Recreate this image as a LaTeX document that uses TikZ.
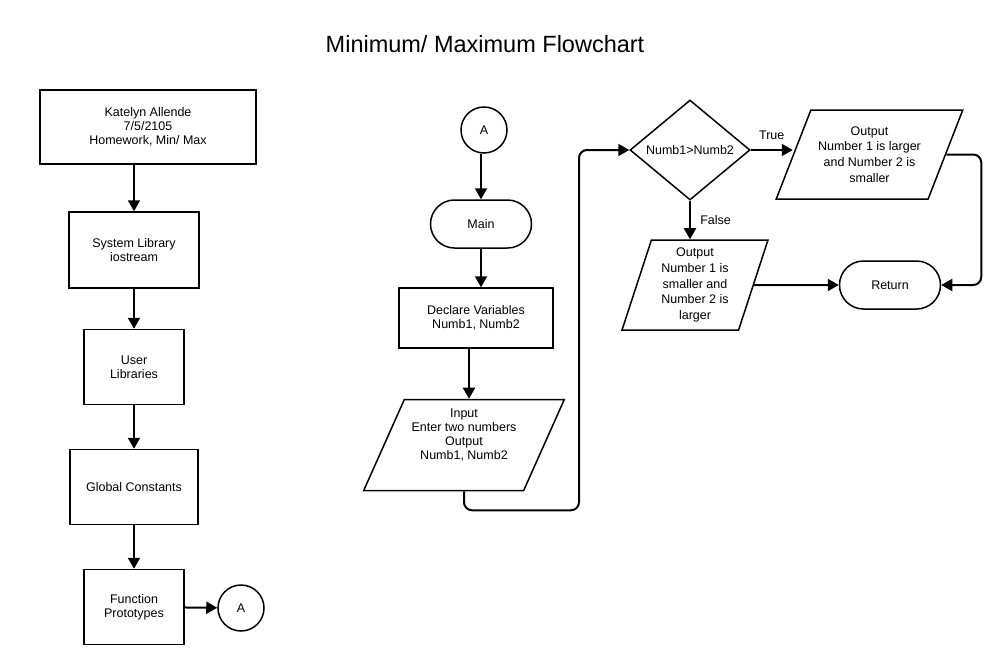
\documentclass[tikz,border=0pt]{standalone}
\usepackage{fontspec}
\setmainfont{Liberation Sans}
\usetikzlibrary{shapes.geometric, arrows.meta, calc, positioning}

\begin{document}
\begin{tikzpicture}[x=1pt, y=-1pt,
  every node/.style={font=\fontsize{12.5}{14}\selectfont, align=center},
  proc/.style={draw, line width=1.5pt, inner sep=0pt},
  term/.style={draw, line width=1.5pt, rounded corners=24pt, minimum width=101pt, minimum height=48pt},
  io/.style={draw, line width=1.5pt, trapezium, trapezium stretches=true, inner sep=1pt},
  decide/.style={draw, line width=1.5pt, diamond, inner sep=0pt, minimum width=120pt, minimum height=100pt},
  conn/.style={draw, line width=1.5pt, circle, inner sep=0pt, minimum size=46pt},
  flow/.style={line width=2pt, -{Triangle[length=11pt,width=12pt]}}]
\useasboundingbox (0,0) rectangle (1004,665);

\node[font=\fontsize{23.5}{28}\selectfont] (title) at (485,44) {Minimum/ Maximum Flowchart};

% left column
\node[proc, minimum width=216pt, minimum height=74pt] (head) at (148,127) {Katelyn Allende\\7/5/2105\\Homework, Min/ Max};
\node[proc, minimum width=130pt, minimum height=76pt] (syslib) at (134,250) {System Library\\iostream};
\node[proc, minimum width=100pt, minimum height=75pt] (userlib) at (134,367) {User\\Libraries};
\node[proc, minimum width=128pt, minimum height=75pt] (consts) at (134,487) {Global Constants};
\node[proc, minimum width=100pt, minimum height=75pt] (protos) at (134,607) {Function\\Prototypes};
\node[conn] (conA) at (241,608) {A};

\draw[flow] (head.south -| syslib.north) -- (syslib.north);
\draw[flow] (syslib) -- (userlib);
\draw[flow] (userlib) -- (consts);
\draw[flow] (consts) -- (protos);
\draw[flow] (protos) -- (conA);

% main part
\node[conn] (conB) at (484,130) {A};
\node[term] (main) at (481,224) {Main};
\node[proc, minimum width=154pt, minimum height=60pt] (decl) at (476,318) {Declare Variables\\Numb1, Numb2};
\node[io, minimum width=201pt, minimum height=91pt, trapezium left angle=64, trapezium right angle=116, text depth=22pt] (input) at (464,445) {Input\\Enter two numbers\\Output\\Numb1, Numb2};
\node[decide] (cmp) at (690,150) {Numb1>Numb2};
\node[io, minimum width=187pt, minimum height=89pt, trapezium left angle=62, trapezium right angle=118, font=\fontsize{12.5}{15.8}\selectfont] (big) at (869.5,154.5) {Output\\Number 1 is larger\\and Number 2 is\\smaller};
\node[io, minimum width=146pt, minimum height=90pt, trapezium left angle=73, trapezium right angle=107, font=\fontsize{12.5}{15.8}\selectfont] (small) at (695,285) {Output\\Number 1 is\\smaller and\\Number 2 is\\larger};
\node[term] (ret) at (890,285) {Return};
\coordinate (bend) at (579,150);

\draw[flow] (conB.south -| main.north) -- (main.north);
\draw[flow] (main) -- (decl.north -| main.south);
\draw[flow] ([xshift=-7pt]decl.south) -- ([xshift=-7pt]decl.south |- input.north);
\draw[flow, rounded corners=8pt] (input.center |- input.south) -- ++(0,19) -| (bend) -- (cmp.west);
\draw[flow] (cmp.east) -- (cmp.east -| big.west) node[midway, above=6pt] {True};
\draw[flow] (cmp.south) -- (cmp.south |- small.north) node[midway, right=6pt] {False};
\draw[flow] (small.east) -- (ret.west);
\draw[flow, rounded corners=8pt] (big.east) -| ([xshift=40pt]ret.east) -- (ret.east);
\end{tikzpicture}
\end{document}
